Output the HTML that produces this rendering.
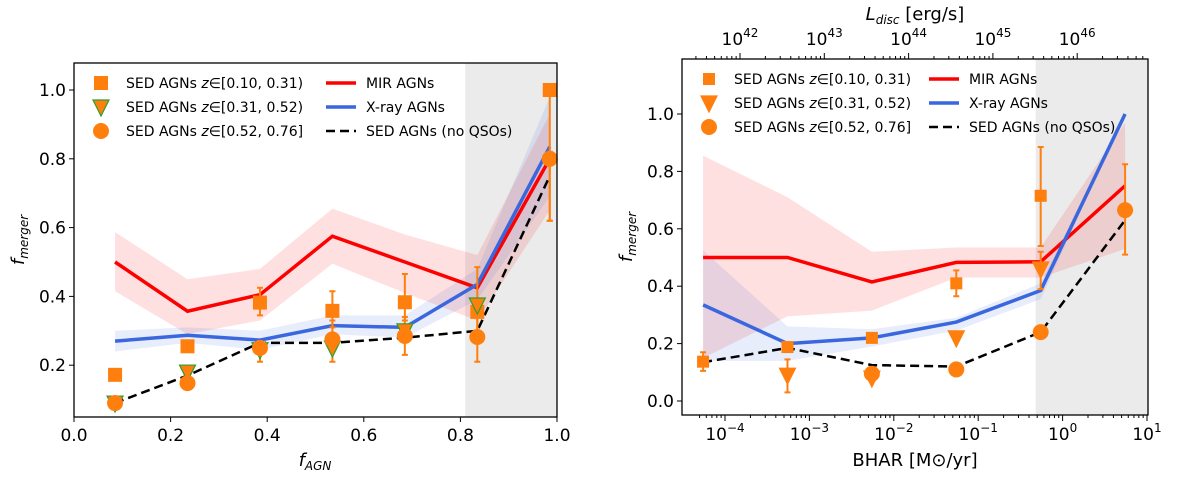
<!DOCTYPE html>
<html><head><meta charset="utf-8"><style>
body{margin:0;background:#fff}
svg{font-family:"DejaVu Sans","Liberation Sans",sans-serif}
</style></head><body>
<svg id="s" width="1200" height="481" xmlns="http://www.w3.org/2000/svg"></svg>
<script>
// ---- Left panel data ----
const L_x=[0.085,0.235,0.385,0.535,0.685,0.835,0.985];
const L_mir=[0.50,0.357,0.405,0.575,0.50,0.425,0.80];
const L_mirHi=[0.587,0.45,0.48,0.655,0.58,0.52,0.93];
const L_mirLo=[0.415,0.29,0.33,0.495,0.41,0.33,0.65];
const L_xr=[0.27,0.287,0.273,0.315,0.31,0.435,0.835];
const L_xrHi=[0.30,0.31,0.30,0.345,0.345,0.48,0.98];
const L_xrLo=[0.24,0.265,0.245,0.29,0.28,0.39,0.69];
const L_dash=[0.09,0.17,0.265,0.265,0.28,0.30,0.75];
const L_sq=[0.172,0.255,0.382,0.358,0.383,0.355,1.0];
const L_sqLo=[null,0.245,0.345,0.31,0.33,0.30,0.62];
const L_sqHi=[null,0.265,0.425,0.415,0.465,0.485,1.0];
const L_tri=[0.09,0.18,0.245,0.25,0.30,0.375,null];
const L_ci=[0.09,0.148,0.25,0.275,0.285,0.282,0.80];
const L_ciLo=[null,null,0.21,0.21,0.23,0.21,0.62];
const L_ciHi=[null,null,0.27,0.33,0.34,0.36,0.82];
const L_xticks=[0,0.2,0.4,0.6,0.8,1.0];
const L_yticks=[0.2,0.4,0.6,0.8,1.0];
// ---- Right panel data ----
const R_x=[5.5e-5,5.5e-4,5.5e-3,5.5e-2,5.5e-1,5.5];
const R_mir=[0.50,0.50,0.415,0.483,0.485,0.75];
const R_mirHi=[0.855,0.71,0.52,0.535,0.535,0.97];
const R_mirLo=[0.15,0.295,0.315,0.43,0.43,0.53];
const R_xr=[0.335,0.20,0.22,0.275,0.385,1.0];
const R_xrHi=[0.525,0.26,0.25,0.29,0.41,1.0];
const R_xrLo=[0.14,0.14,0.19,0.245,0.355,1.0];
const R_dash=[0.135,0.185,0.125,0.12,0.24,0.63];
const R_sq=[0.137,0.188,0.22,0.41,0.715,null];
const R_sqLo=[0.105,null,null,0.365,0.54,null];
const R_sqHi=[0.17,null,null,0.455,0.885,null];
const R_tri=[null,0.09,0.08,0.22,0.46,null];
const R_triLo=[null,0.03,null,null,0.39,null];
const R_triHi=[null,0.145,null,null,0.52,null];
const R_ci=[null,null,0.095,0.11,0.24,0.665];
const R_ciLo=[null,null,null,null,null,0.51];
const R_ciHi=[null,null,null,null,null,0.825];
const R_xticks=[-4,-3,-2,-1,0,1];
const R_yticks=[0,0.2,0.4,0.6,0.8,1.0];
const R_topTicks=[42,43,44,45,46];

const S=document.getElementById('s');const NS='http://www.w3.org/2000/svg';
function el(t,a,p){const e=document.createElementNS(NS,t);for(const k in a)e.setAttribute(k,a[k]);(p||S).appendChild(e);return e;}
const OR='#ff7f0e',RED='#ff0000',BLUE='#3a67dd';

function panel(P){
  const g=el('g',{});
  
  
  // gray band
  const gb=el('rect',{x:P.X(P.grayFrom),y:P.top,width:P.right-P.X(P.grayFrom),height:P.bot-P.top,fill:'#ebebeb'},g);
  
  const band=(hi,lo,col,nm)=>{let d='';P.xs.forEach((v,i)=>{d+=(i?'L':'M')+P.X(v)+','+P.Y(hi[i]);});
    for(let i=P.xs.length-1;i>=0;i--)d+='L'+P.X(P.xs[i])+','+P.Y(lo[i]);
    const e=el('path',{d:d+'Z',fill:col},g);};
  band(P.mirHi,P.mirLo,'rgba(255,0,0,0.12)','mir-band');
  band(P.xrHi,P.xrLo,'rgba(65,105,225,0.12)','xray-band');
  const line=(ys,col,w,dash,nm)=>{const pts=P.xs.map((v,i)=>P.X(v)+','+P.Y(ys[i])).join(' ');
    const a={points:pts,fill:'none',stroke:col,'stroke-width':w};if(dash)a['stroke-dasharray']=dash;
    const e=el('polyline',a,g);};
  line(P.mir,RED,3.5,null,'mir-line');
  line(P.xr,BLUE,3.5,null,'xray-line');
  line(P.dash,'#000',2.5,'9,5','sed-noqso-line');
  const err=(ys,lo,hi,nm)=>{ys.forEach((v,i)=>{if(lo[i]==null)return;const x=P.X(P.xs[i]);
    const e=el('path',{d:`M${x},${P.Y(lo[i])}V${P.Y(hi[i])}M${x-3},${P.Y(lo[i])}h6M${x-3},${P.Y(hi[i])}h6`,stroke:OR,'stroke-width':2,fill:'none'},g);
    });};
  err(P.sq,P.sqLo,P.sqHi,'square-errorbar');err(P.tri,P.triLo,P.triHi,'triangle-errorbar');err(P.ci,P.ciLo,P.ciHi,'circle-errorbar');
  P.sq.forEach((v,i)=>{if(v==null)return;const e=el('rect',{x:P.X(P.xs[i])-P.sqs,y:P.Y(v)-P.sqs,width:2*P.sqs,height:2*P.sqs,fill:OR},g);
    });
  P.tri.forEach((v,i)=>{if(v==null)return;const x=P.X(P.xs[i]),y=P.Y(v);
    const e=el('polygon',{points:`${x-8},${y-7} ${x+8},${y-7} ${x},${y+9}`,fill:OR,stroke:P.triStroke,'stroke-width':1.2},g);
    });
  P.ci.forEach((v,i)=>{if(v==null)return;const e=el('circle',{cx:P.X(P.xs[i]),cy:P.Y(v),r:8,fill:OR},g);
    });
  const fr=el('rect',{x:P.left,y:P.top,width:P.right-P.left,height:P.bot-P.top,fill:'none',stroke:'#000','stroke-width':1.3},g);
  
  P.yticks.forEach(v=>{const y=P.Y(v);el('line',{x1:P.left-5,x2:P.left,y1:y,y2:y,stroke:'#000'},g);
    const t=el('text',{x:P.left-8,y:y+6,'text-anchor':'end','font-size':17},g);t.textContent=v.toFixed(1);
    });
  const yl=el('text',{transform:`translate(${P.left-50},${(P.top+P.bot)/2}) rotate(-90)`,'text-anchor':'middle','font-size':18,'font-style':'italic'},g);
  yl.innerHTML='f<tspan font-size="12" dy="4">merger</tspan>';
  
  // legend
  const lx=P.left+12,ly=P.top+20,ls=24;
  const labs=['[0.10, 0.31)','[0.31, 0.52)','[0.52, 0.76]'];
  labs.forEach((l,i)=>{const y=ly+i*ls,x=lx+15;
    if(i==0)el('rect',{x:x-P.sqs,y:y-P.sqs,width:2*P.sqs,height:2*P.sqs,fill:OR},g);
    if(i==1)el('polygon',{points:`${x-8},${y-7} ${x+8},${y-7} ${x},${y+9}`,fill:OR,stroke:P.triStroke,'stroke-width':1.2},g);
    if(i==2)el('circle',{cx:x,cy:y,r:8,fill:OR},g);
    const t=el('text',{x:lx+40,y:y+5,'font-size':14},g);t.innerHTML='SED AGNs <tspan font-style="italic">z</tspan>∈'+l;
    });
  const l2=[['MIR AGNs',RED,null],['X-ray AGNs',BLUE,null],['SED AGNs (no QSOs)','#000','9,5']];
  l2.forEach((l,i)=>{const y=ly+i*ls,x=lx+P.leg2;
    const a={x1:x,x2:x+30,y1:y,y2:y,stroke:l[1],'stroke-width':l[2]?2.5:3.5};if(l[2])a['stroke-dasharray']=l[2];el('line',a,g);
    const t=el('text',{x:x+40,y:y+5,'font-size':14},g);t.textContent=l[0];
    });
  return g;
}
// Left
const LX=v=>74+(v-0)*483,LY=v=>434-v*344;
const gl=panel({name:'left-panel',xs:L_x,X:LX,Y:LY,left:74,right:557,top:63,bot:417,grayFrom:0.81,
  mir:L_mir,mirHi:L_mirHi,mirLo:L_mirLo,xr:L_xr,xrHi:L_xrHi,xrLo:L_xrLo,dash:L_dash,
  sq:L_sq,sqLo:L_sqLo,sqHi:L_sqHi,tri:L_tri,triLo:L_x.map(()=>null),triHi:L_x.map(()=>null),
  ci:L_ci,ciLo:L_ciLo,ciHi:L_ciHi,yticks:L_yticks,sqs:7,triStroke:'#2ca02c',leg2:240});
L_xticks.forEach(v=>{const x=LX(v);el('line',{x1:x,x2:x,y1:417,y2:422,stroke:'#000'},gl);
  const t=el('text',{x:x,y:441,'text-anchor':'middle','font-size':17},gl);t.textContent=v.toFixed(1);
  });
const xl=el('text',{x:315,y:466,'text-anchor':'middle','font-size':18,'font-style':'italic'},gl);
xl.innerHTML='f<tspan font-size="12" dy="4">AGN</tspan>';

// Right
const RX=v=>725+(Math.log10(v)+4)*84.4,RY=v=>401-v*287;
const gr=panel({name:'right-panel',xs:R_x,X:RX,Y:RY,left:682,right:1148,top:59,bot:415,grayFrom:0.48,
  mir:R_mir,mirHi:R_mirHi,mirLo:R_mirLo,xr:R_xr,xrHi:R_xrHi,xrLo:R_xrLo,dash:R_dash,
  sq:R_sq,sqLo:R_sqLo,sqHi:R_sqHi,tri:R_tri,triLo:R_triLo,triHi:R_triHi,
  ci:R_ci,ciLo:R_ciLo,ciHi:R_ciHi,yticks:R_yticks,sqs:6,triStroke:OR,leg2:235});
R_xticks.forEach(p=>{const x=725+(p+4)*84.4;el('line',{x1:x,x2:x,y1:415,y2:421,stroke:'#000'},gr);
  for(let k=2;k<10;k++){const xm=x+Math.log10(k)*84.4;if(xm<1148&&xm>682)el('line',{x1:xm,x2:xm,y1:415,y2:418,stroke:'#000'},gr);}
  if(p==-4)for(let k=5;k<10;k++){const xm=x-84.4+Math.log10(k)*84.4;el('line',{x1:xm,x2:xm,y1:415,y2:418,stroke:'#000'},gr);}
  const t=el('text',{x:x,y:440,'text-anchor':'middle','font-size':17},gr);t.innerHTML='10<tspan font-size="12" dy="-8">'+(p<0?'−'+(-p):p)+'</tspan>';
  });
const xr=el('text',{x:915,y:466,'text-anchor':'middle','font-size':18},gr);xr.textContent='BHAR [M⊙/yr]';

R_topTicks.forEach(p=>{const x=740+(p-42)*84.3;el('line',{x1:x,x2:x,y1:59,y2:53,stroke:'#000'},gr);
  for(let k=2;k<10;k++){const xm=x+Math.log10(k)*84.3;if(xm<1148)el('line',{x1:xm,x2:xm,y1:59,y2:56,stroke:'#000'},gr);}
  for(let k=2;k<10;k++){const xm=x-84.3+Math.log10(k)*84.3;if(p==42&&xm>682)el('line',{x1:xm,x2:xm,y1:59,y2:56,stroke:'#000'},gr);}
  const t=el('text',{x:x,y:45,'text-anchor':'middle','font-size':17},gr);t.innerHTML='10<tspan font-size="12" dy="-8">'+p+'</tspan>';
  });
const tl=el('text',{x:915,y:20,'text-anchor':'middle','font-size':18},gr);
tl.innerHTML='<tspan font-style="italic">L<tspan font-size="12" dy="4">disc</tspan></tspan><tspan dy="-4"> [erg/s]</tspan>';

</script>
</body></html>
